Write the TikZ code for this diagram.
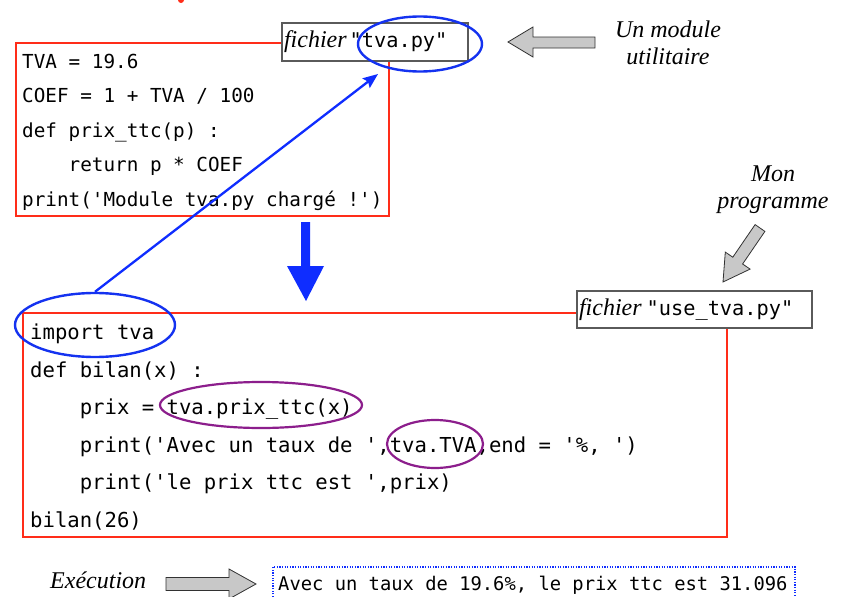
\documentclass[tikz,border=0pt]{standalone}
\usepackage{fontspec}
\setmainfont{Liberation Serif}
\setmonofont{DejaVu Sans Mono}
\usetikzlibrary{shapes.geometric,arrows.meta}
\definecolor{boxred}{RGB}{255,45,25}
\definecolor{ellblue}{RGB}{20,50,240}
\definecolor{linkblue}{RGB}{15,45,255}
\definecolor{ellpurple}{RGB}{140,30,140}
\definecolor{arrowgray}{RGB}{200,200,200}
\definecolor{arrowedge}{RGB}{50,50,50}
\definecolor{labeledge}{RGB}{90,90,90}
\tikzset{
  codetop/.style={anchor=base west,inner sep=0pt,font=\fontsize{19.3}{22}\selectfont\ttfamily},
  codebot/.style={anchor=base west,inner sep=0pt,font=\fontsize{20.6}{24}\selectfont\ttfamily},
  redbox/.style={draw=boxred,line width=1.8pt},
  labelbox/.style={draw=labeledge,fill=white,line width=1.2pt,inner sep=0pt},
  blueell/.style={ellipse,draw=ellblue,line width=2.4pt,inner sep=0pt},
  purpell/.style={ellipse,draw=ellpurple,line width=2.2pt,inner sep=0pt},
  grayarrow/.style={fill=arrowgray,draw=arrowedge,line width=0.8pt,line join=miter},
  note/.style={align=center,inner sep=0pt,font=\fontsize{24}{27}\selectfont\itshape},
}
\newcommand{\lbl}[3]{\makebox[#1][l]{\hspace{2pt}{\fontsize{24}{24}\selectfont\itshape fichier}\hspace{#2}{\fontsize{20.3}{20}\selectfont\ttfamily #3}}}
\begin{document}
\begin{tikzpicture}[x=1pt,y=-1pt]
\useasboundingbox (0,0) rectangle (844,597);
\fill[white] (0,0) rectangle (844,597);
% stray red mark at the top
\fill[boxred] (181,0) circle[radius=3pt];

% ---- module tva.py ----
\draw[redbox] (16,43) rectangle (389,216);
\node[codetop] (t1) at (22,68) {TVA = 19.6};
\node[codetop] (t2) at (22,102.6) {COEF = 1 + TVA / 100};
\node[codetop] (t3) at (22,137.2) {def prix\_ttc(p) :};
\node[codetop] (t4) at (22,171.8) {\phantom{xxxx}return p * COEF};
\node[codetop] (t5) at (22,206.4) {print('Module tva.py chargé !')};
\node[labelbox,minimum width=186pt,minimum height=38pt] (lab1) at (375,42) {\lbl{186pt}{3pt}{"tva.py"}};

% ---- use_tva.py ----
\draw[redbox] (23,313) rectangle (727,537);
\node[codebot] (b1) at (30,339.5) {import tva};
\node[codebot] (b2) at (30,377.1) {def bilan(x) :};
\node[codebot] (b3) at (30,414.7) {\phantom{xxxx}prix = tva.prix\_ttc(x)};
\node[codebot] (b4) at (30,452.3) {\phantom{xxxx}print('Avec un taux de ',tva.TVA,end = '\%, ')};
\node[codebot] (b5) at (30,489.9) {\phantom{xxxx}print('le prix ttc est ',prix)};
\node[codebot] (b6) at (30,527.5) {bilan(26)};
\node[labelbox,minimum width=235pt,minimum height=37pt] (lab2) at (694.5,309.5) {\lbl{235pt}{5pt}{"use\_tva.py"}};

% ---- highlights ----
\node[blueell,minimum width=124pt,minimum height=55pt] (tvaE) at (420,44) {};
\node[blueell,minimum width=160pt,minimum height=64pt] (impE) at (95,325) {};
\node[purpell,minimum width=202pt,minimum height=46pt] (prixE) at (261,405) {};
\node[purpell,minimum width=96pt,minimum height=48pt] (tvaTE) at (435,444) {};

% ---- blue link ----
\coordinate (linkend) at (378,74);
\draw[linkblue,line width=2.3pt,-{Stealth[length=15pt,width=12pt,inset=2.5pt]}] (impE.north) -- (linkend);

% ---- big blue down arrow ----
\fill[linkblue] (301,222) -- (310,222) -- (310,266) -- (324,266) -- (306,301) -- (287,266) -- (301,266) -- cycle;

% ---- notes with gray arrows ----
\node[note] (n1) at (668,43) {Un module\\utilitaire};
\draw[grayarrow] (595,37) -- (533,37) -- (533,27) -- (508,42) -- (533,57) -- (533,48) -- (595,48) -- cycle;

\node[note] (n2) at (773,190) {Mon\\programme};
\draw[grayarrow] (764.9,231.4) -- (742.6,264.0) -- (750.1,269.1) -- (723,282) -- (725.3,252.1) -- (732.8,257.2) -- (755.1,224.6) -- cycle;

% ---- execution ----
\node[anchor=base west,inner sep=0pt,font=\fontsize{24}{26}\selectfont\itshape] (exe) at (50,588) {Exécution};
\draw[grayarrow] (166,577.5) -- (229,577.5) -- (229,569) -- (256,584) -- (229,599) -- (229,590.5) -- (166,590.5) -- cycle;
\draw[linkblue,line width=1.4pt,dash pattern=on 1.2pt off 1.4pt] (273,610) -- (273,567) -- (795,567) -- (795,610);
\node[anchor=base west,inner sep=0pt,font=\fontsize{18.8}{22}\selectfont\ttfamily] (out) at (278,590) {Avec un taux de 19.6\%, le prix ttc est 31.096};
\end{tikzpicture}
\end{document}
